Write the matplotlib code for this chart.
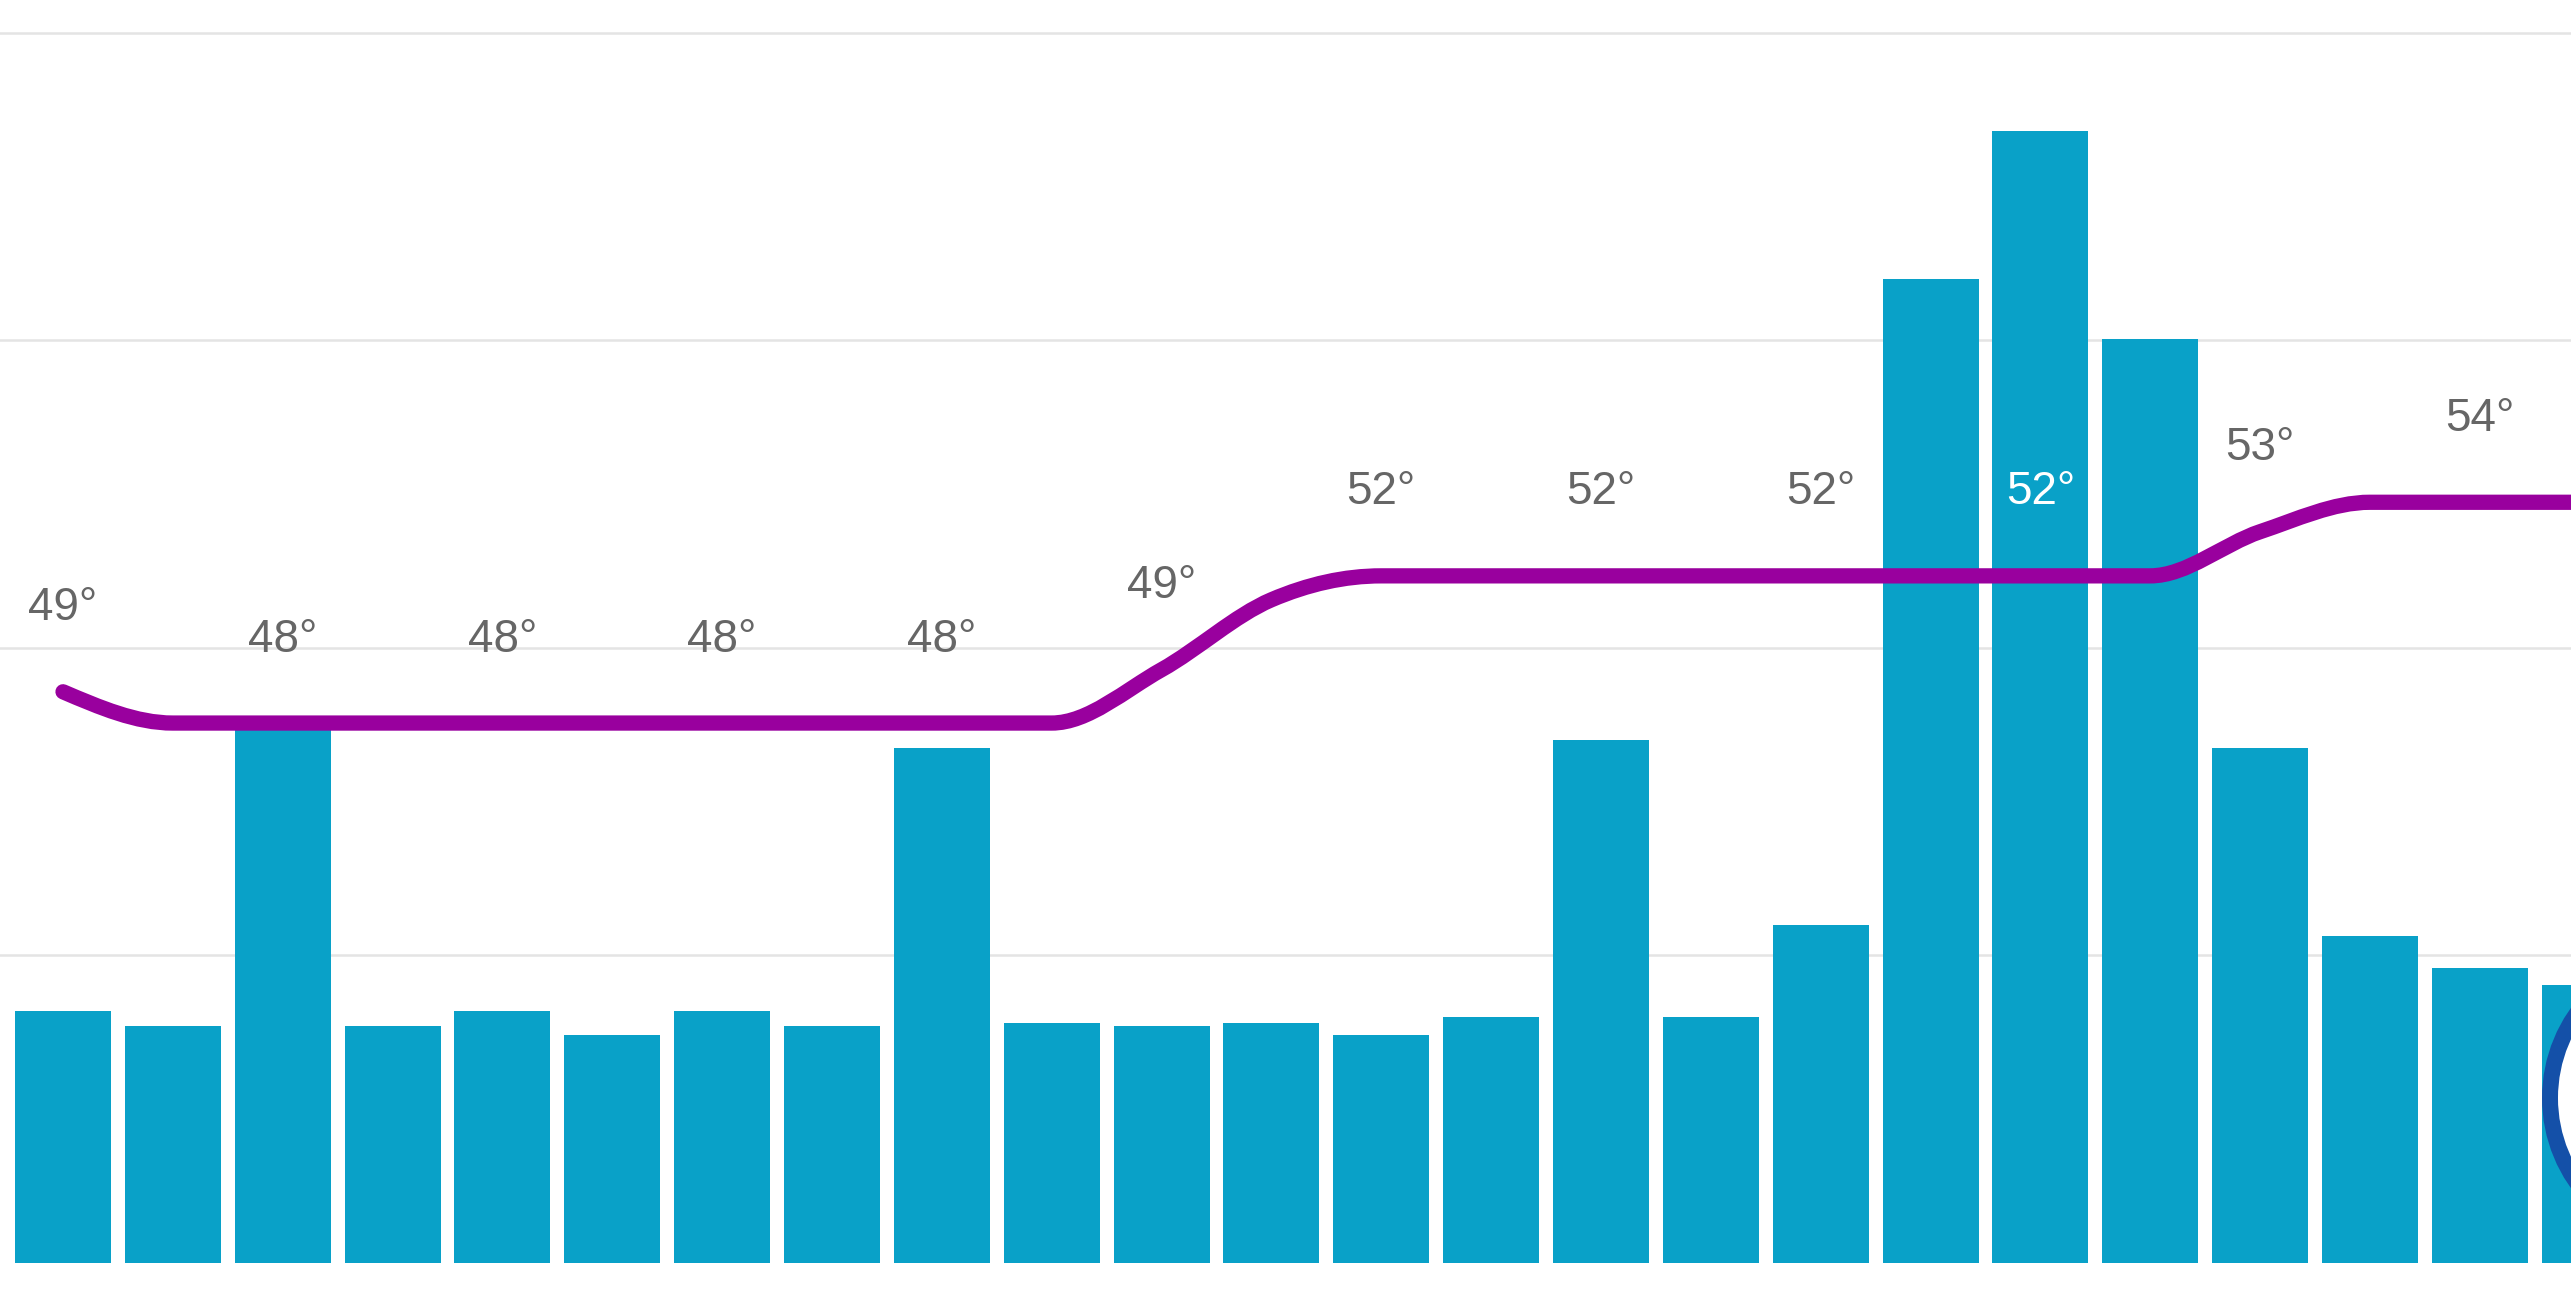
import numpy as np
import matplotlib
matplotlib.use("Agg")
import matplotlib.pyplot as plt
from matplotlib.path import Path
from matplotlib.patches import PathPatch, Circle

plt.rcParams['font.family'] = ['Liberation Sans', 'DejaVu Sans']

# hourly data
hours = list(range(24))
bar_vals = [0.82, 0.77, 1.75, 0.77, 0.82, 0.74, 0.82, 0.77, 1.675, 0.78, 0.77, 0.78,
            0.74, 0.80, 1.70, 0.80, 1.10, 3.20, 3.68, 3.005, 1.675, 1.063, 0.96, 0.905]
temps = [48.85, 48, 48, 48, 48, 48, 48, 48, 48, 48, 49.45, 51.35,
         52, 52, 52, 52, 52, 52, 52, 52, 53.2, 54, 54, 54]

# temperature labels, every second hour
label_hours = hours[::2]
label_text = ["49°", "48°", "48°", "48°", "48°", "49°",
              "52°", "52°", "52°", "52°", "53°", "54°"]
label_colors = ["#666666"] * 12
label_colors[9] = "white"

BAR_COLOR = '#09a1c8'
LINE_COLOR = '#99009e'
GRID_COLOR = '#e4e4e4'


def mono_slopes(x, y):
    # monotone cubic: averaged secants, zero at flat parts / extrema
    x = np.asarray(x, float)
    y = np.asarray(y, float)
    d = np.diff(y) / np.diff(x)
    m = np.zeros_like(y)
    for k in range(1, len(y) - 1):
        if d[k - 1] * d[k] > 0:
            s = (d[k - 1] + d[k]) / 2
            lim = 3 * min(abs(d[k - 1]), abs(d[k]))
            m[k] = np.sign(s) * min(abs(s), lim)
    m[0] = 1.5 * d[0] if d[1] == 0 else d[0]
    m[-1] = d[-1]
    return m


def smooth_path(x, y):
    m = mono_slopes(x, y)
    verts = [(x[0], y[0])]
    codes = [Path.MOVETO]
    for i in range(len(x) - 1):
        h = x[i + 1] - x[i]
        verts += [(x[i] + h / 3, y[i] + m[i] * h / 3),
                  (x[i + 1] - h / 3, y[i + 1] - m[i + 1] * h / 3),
                  (x[i + 1], y[i + 1])]
        codes += [Path.CURVE4] * 3
    return Path(verts, codes)


W, H, DPI = 2571, 1314, 100
fig = plt.figure(figsize=(W / DPI, H / DPI), dpi=DPI)
fig.patch.set_facecolor('white')
ax = fig.add_axes([0, 0, 1, 1])

ax.set_xlim(-0.5735, 22.83)
ax.set_ylim(-0.166, 4.107)
for g in [1, 2, 3, 4]:
    ax.axhline(g, color=GRID_COLOR, lw=1.8, zorder=0)
ax.bar(hours, bar_vals, width=0.874, color=BAR_COLOR, zorder=2)
ax.axis('off')

ax2 = ax.twinx()
ax2.set_position([0, 0, 1, 1])
ax2.set_ylim(31.94, 67.65)
ax2.set_xlim(ax.get_xlim())
ax2.axis('off')

patch = PathPatch(smooth_path(hours, temps), facecolor='none', edgecolor=LINE_COLOR,
                  lw=11, capstyle='round', joinstyle='round', zorder=3)
ax2.add_patch(patch)

for h, txt, c in zip(label_hours, label_text, label_colors):
    ax2.annotate(txt, (h, temps[h]), xytext=(0, 51.5), textcoords='offset points',
                 ha='center', va='baseline', fontsize=33, color=c, zorder=4)

# partially visible marker at the right edge
ring = Circle((2697 / DPI, (H - 1098) / DPI), 147 / DPI, transform=fig.dpi_scale_trans,
              facecolor='white', edgecolor='#1450a8', lw=11.5, zorder=5)
fig.add_artist(ring)

fig.savefig('out.png', dpi=DPI)
